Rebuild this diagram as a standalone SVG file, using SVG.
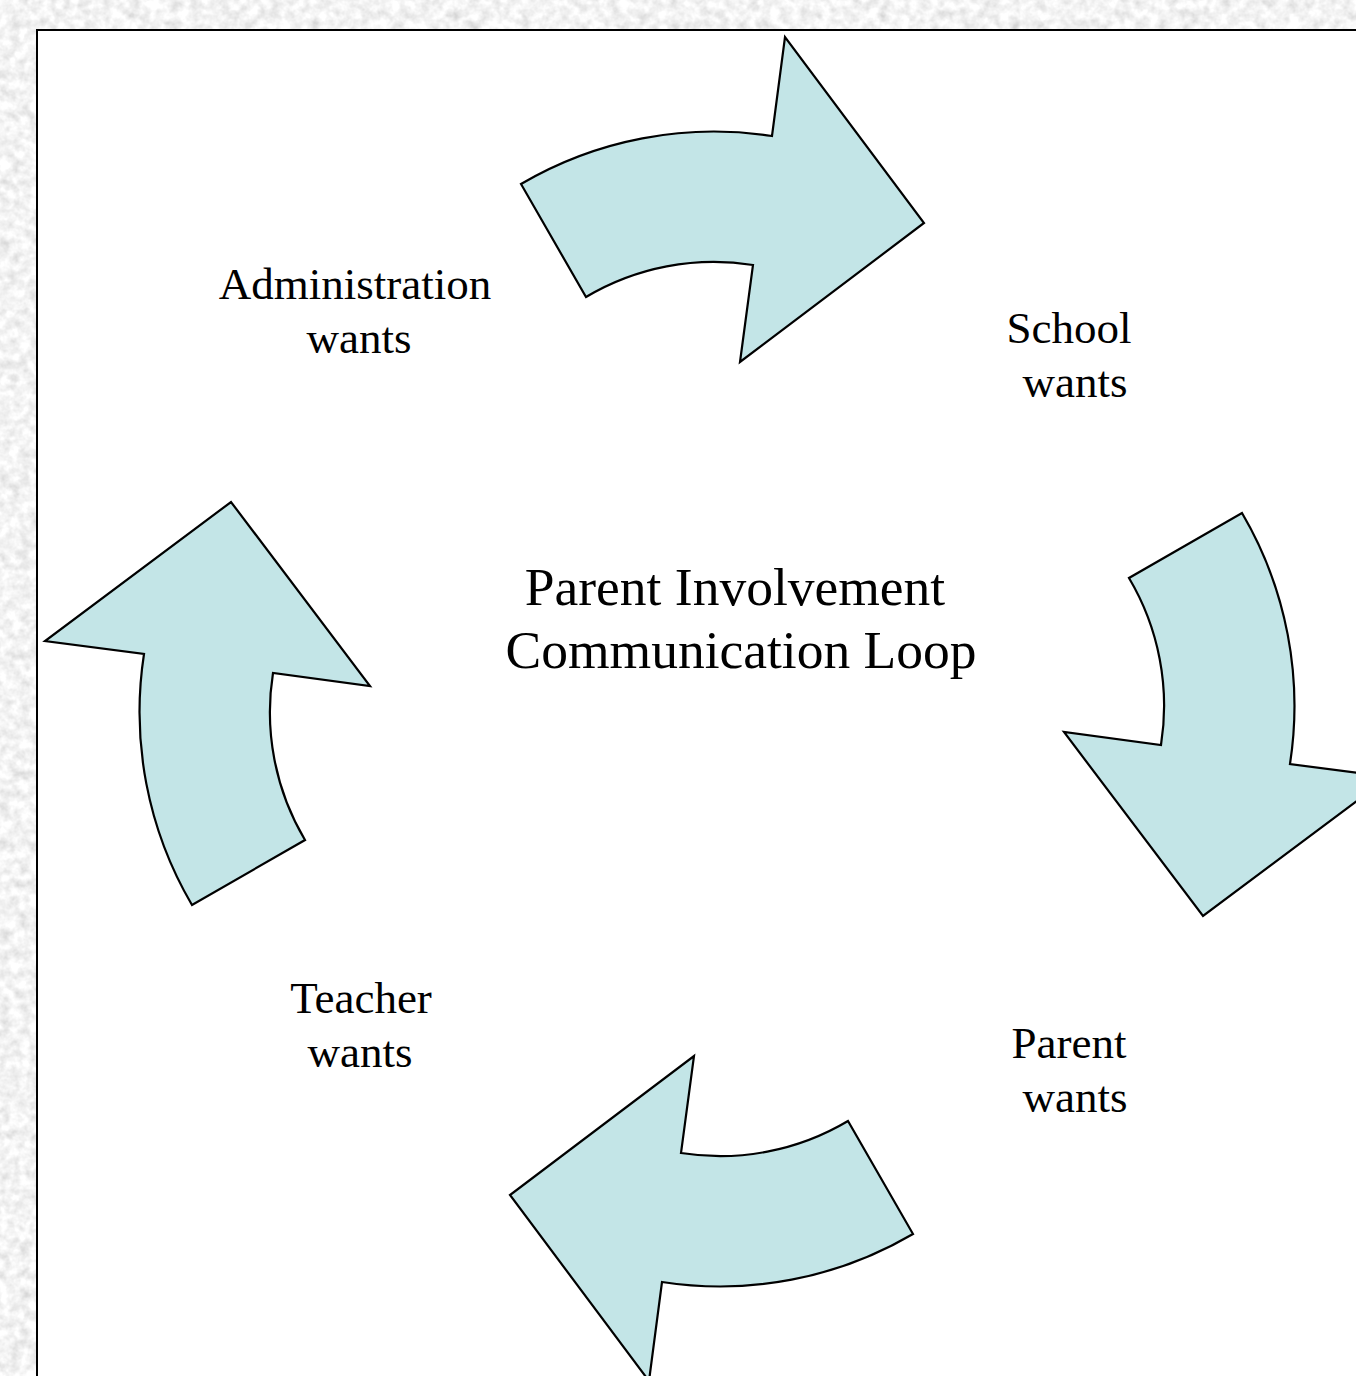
<svg xmlns="http://www.w3.org/2000/svg" width="1356" height="1376" viewBox="0 0 1356 1376">
  <defs>
    <filter id="marble" x="0" y="0" width="100%" height="100%">
      <feTurbulence type="fractalNoise" baseFrequency="0.1" numOctaves="3" seed="4" result="n"/>
      <feColorMatrix in="n" type="saturate" values="0" result="g"/>
      <feComponentTransfer in="g">
        <feFuncR type="linear" slope="0.7" intercept="0.55"/>
        <feFuncG type="linear" slope="0.7" intercept="0.55"/>
        <feFuncB type="linear" slope="0.7" intercept="0.55"/>
        <feFuncA type="discrete" tableValues="1"/>
      </feComponentTransfer>
    </filter>
    <path id="arrow" d="M521,184 A381,381 0 0 1 772,136 L785,37 L924,223 L740,362 L753,265 A250,250 0 0 0 586,297 Z"/>
    <style>
      .arr { fill: #c3e5e7; stroke: #000; stroke-width: 2.2; stroke-linejoin: miter; }
      .lbl { font-family: "Liberation Serif", "Times New Roman", serif; font-size: 45px; fill: #000; text-anchor: middle; }
      .ttl { font-family: "Liberation Serif", "Times New Roman", serif; font-size: 53.5px; fill: #000; text-anchor: middle; }
    </style>
  </defs>

  <rect x="0" y="0" width="1356" height="1376" fill="#e0e0e0"/>
  <rect x="0" y="0" width="1356" height="1376" filter="url(#marble)"/>
  <rect id="panel" x="37" y="30" width="1340" height="1370" fill="#ffffff" stroke="#000" stroke-width="2"/>

  <g id="connectors">
    <use href="#arrow" class="arr"/>
    <use href="#arrow" class="arr" transform="rotate(90 717 709)"/>
    <use href="#arrow" class="arr" transform="rotate(180 717 709)"/>
    <use href="#arrow" class="arr" transform="rotate(270 717 709)"/>
  </g>

  <g id="node-administration">
    <text class="lbl" x="355" y="299">Administration</text>
    <text class="lbl" x="359" y="353">wants</text>
  </g>
  <g id="node-school">
    <text class="lbl" x="1069" y="343">School</text>
    <text class="lbl" x="1075" y="397">wants</text>
  </g>
  <g id="node-parent">
    <text class="lbl" x="1069" y="1058">Parent</text>
    <text class="lbl" x="1075" y="1112">wants</text>
  </g>
  <g id="node-teacher">
    <text class="lbl" x="361" y="1013">Teacher</text>
    <text class="lbl" x="360" y="1067">wants</text>
  </g>
  <g id="node-title">
    <text class="ttl" x="735" y="605">Parent Involvement</text>
    <text class="ttl" x="741" y="668">Communication Loop</text>
  </g>
</svg>
